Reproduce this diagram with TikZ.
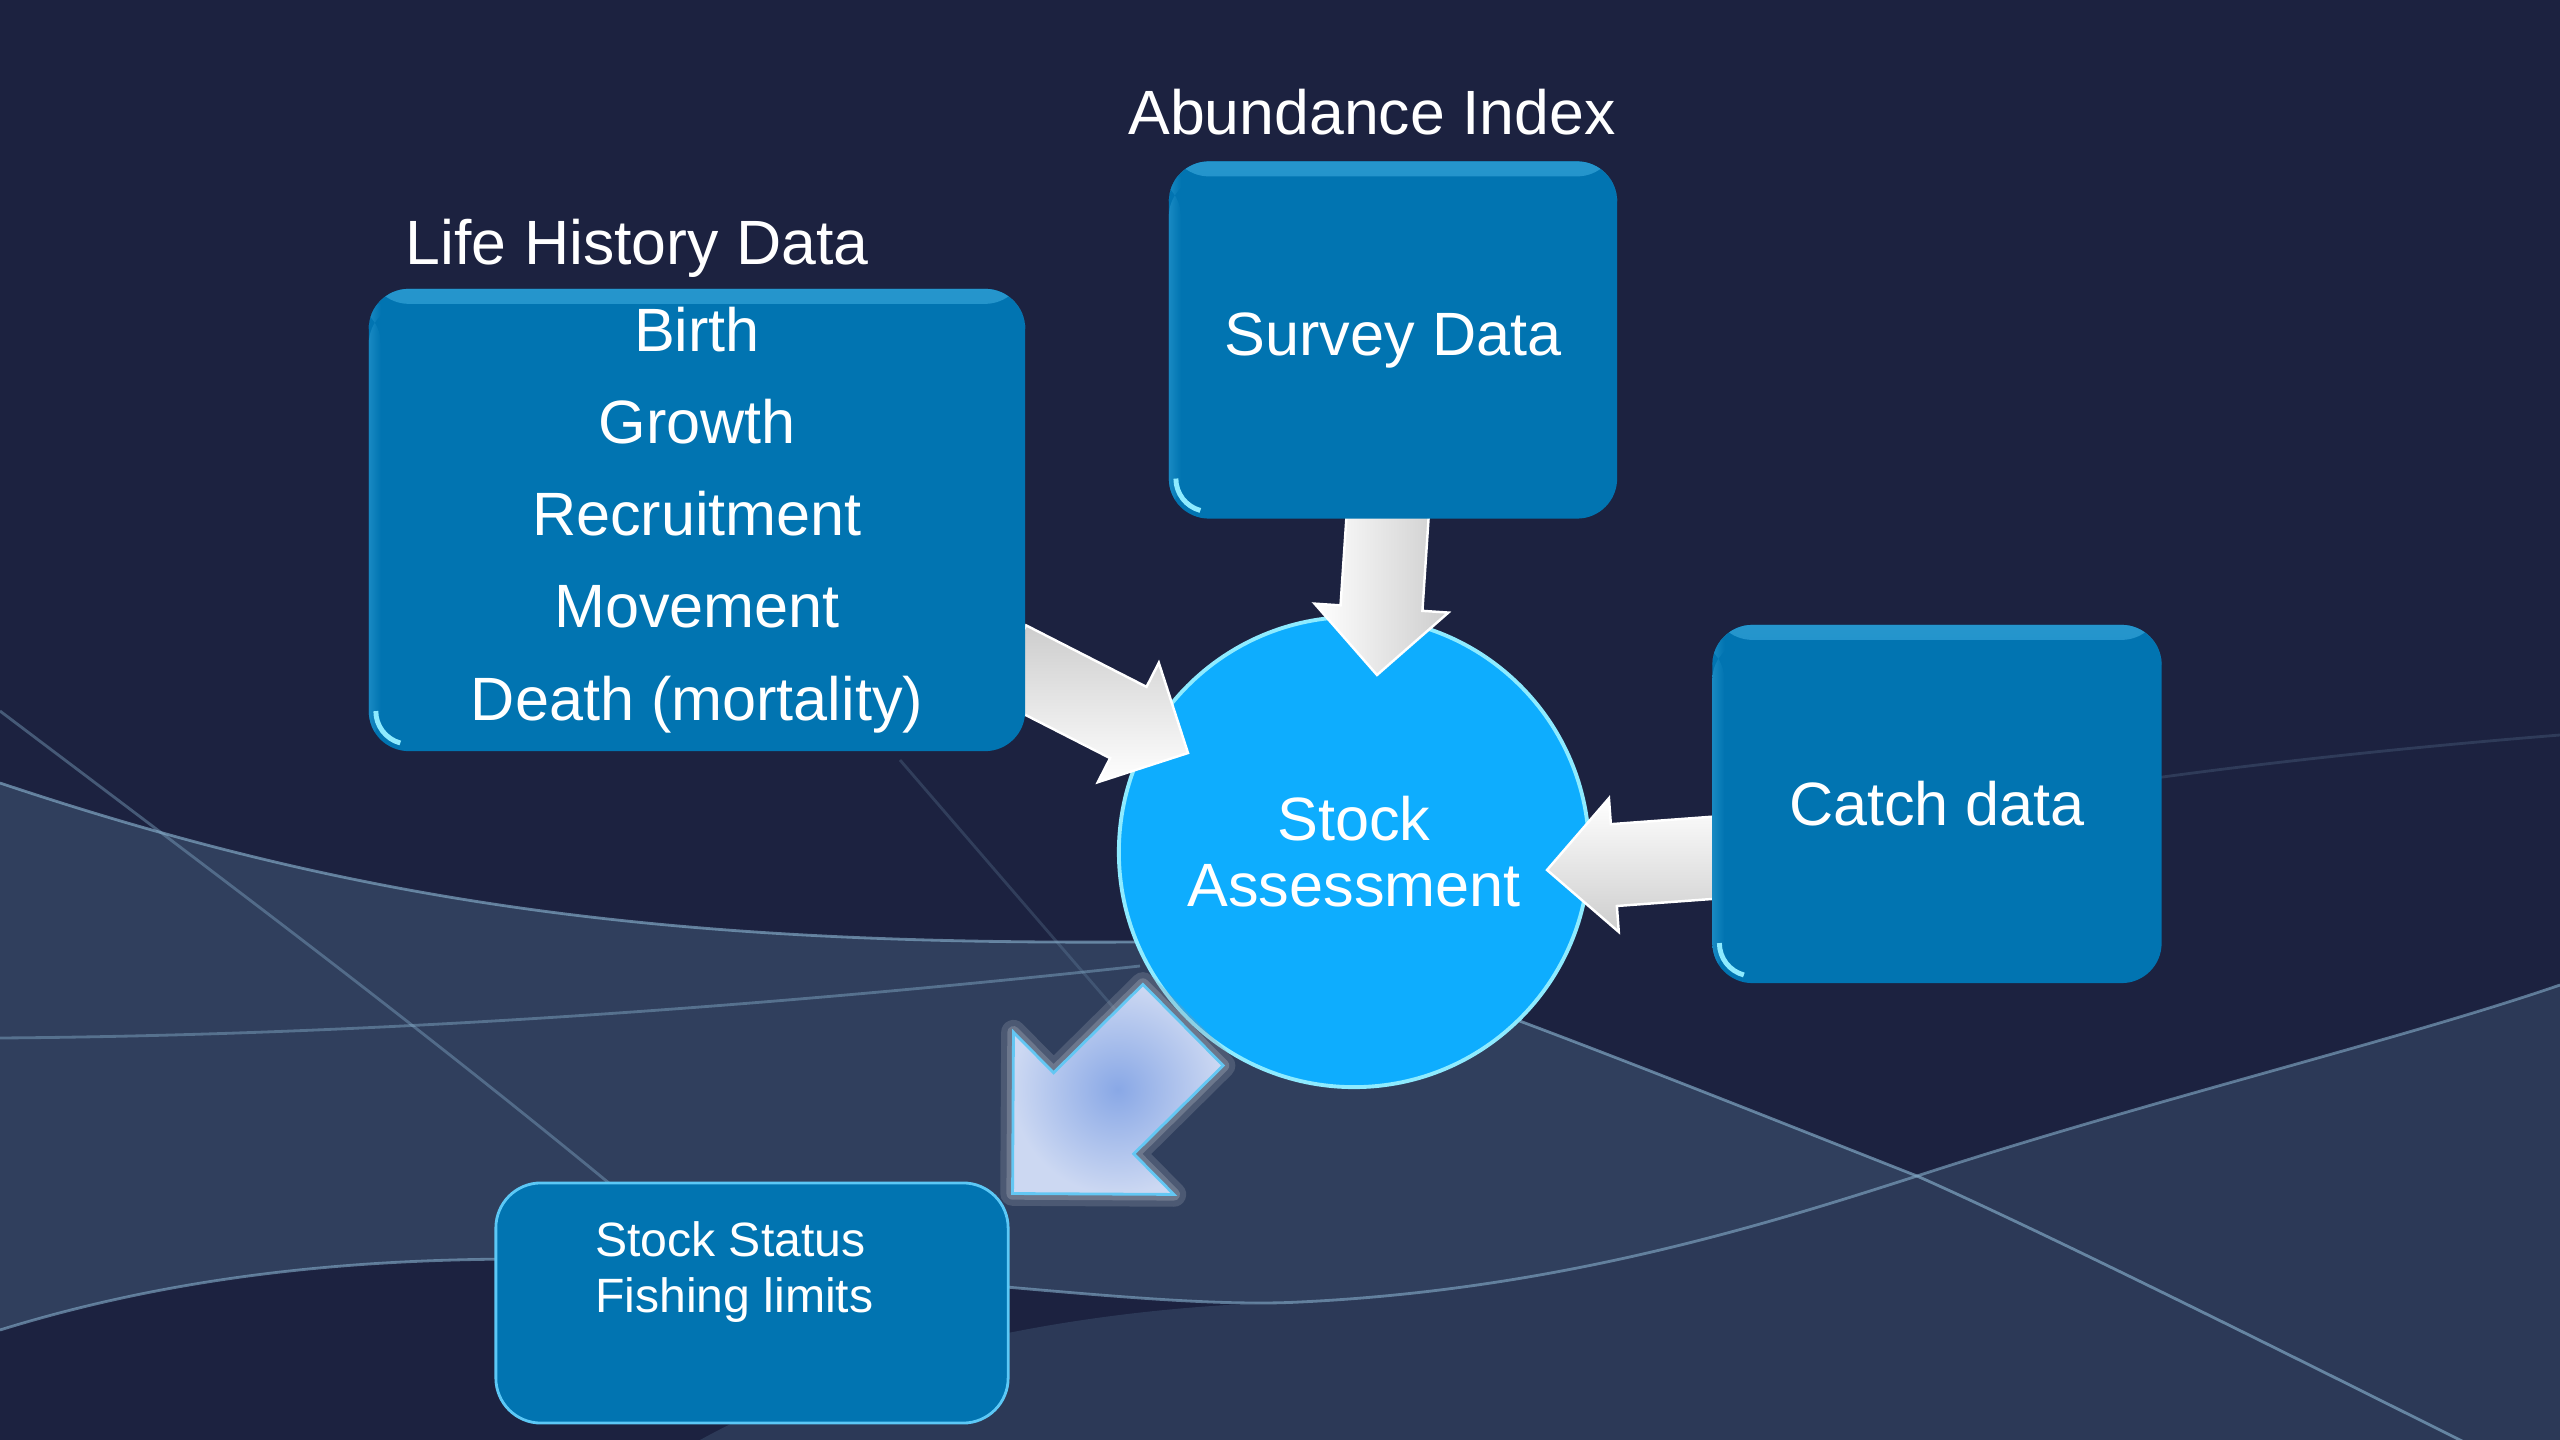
\documentclass[tikz,border=0pt]{standalone}
\usepackage{fontspec}
\setmainfont{Liberation Sans}
\usetikzlibrary{calc,positioning}

\definecolor{navy}{HTML}{1C2240}
\definecolor{boxblue}{HTML}{0174B1}
\definecolor{hiblue}{HTML}{5CC8F6}
\definecolor{hubblue}{HTML}{0EADFE}
\definecolor{rimcyan}{HTML}{8EEBFF}
\definecolor{wave}{HTML}{4A6482}
\definecolor{waveline}{HTML}{86AECB}
\definecolor{arrowgray}{HTML}{CDCDCD}
\definecolor{outin}{HTML}{89A8E6}
\definecolor{outout}{HTML}{CCD8F2}
\definecolor{outedge}{HTML}{63C7F3}
\definecolor{glow}{HTML}{8D96A6}

\pgfdeclarelayer{back}
\pgfdeclarelayer{flow}
\pgfsetlayers{back,flow,main}

\newcommand{\bigtext}{\fontsize{17.4pt}{26.2pt}\selectfont}
\newcommand{\hubtext}{\fontsize{17.4pt}{18.8pt}\selectfont}
\newcommand{\smalltext}{\fontsize{13.7pt}{15.9pt}\selectfont}
\newcommand{\headtext}{\fontsize{17.8pt}{20pt}\selectfont}

% block arrow: #1 options, #2 tail, #3 tip, #4 half shaft, #5 half head
\newcommand{\blockarrow}[5]{%
  \coordinate (hb) at ($(#3)!#5!(#2)$);
  \path[#1] ($(#2)!#4!90:(#3)$) -- ($(hb)!#4!90:(#3)$) -- ($(hb)!#5!90:(#3)$) -- (#3)
    -- ($(hb)!#5!-90:(#3)$) -- ($(hb)!#4!-90:(#3)$) -- ($(#2)!#4!-90:(#3)$) -- cycle;
}

\tikzset{
  databox/.style={rounded corners=4mm, fill=boxblue, text=white, align=center,
    font=\bigtext, inner sep=0pt,
    path picture={
      \shade[top color=boxblue!60!hiblue, middle color=hiblue, bottom color=boxblue]
        (path picture bounding box.north west) rectangle ([yshift=-1.5mm]path picture bounding box.north east);
      \shade[left color=boxblue!75!hiblue, right color=boxblue]
        ([yshift=-1.5mm]path picture bounding box.north west) rectangle ([xshift=1.2mm]path picture bounding box.south west);
      \draw[rimcyan, line width=1.4pt]
        ([shift={(0.7mm,4mm)}]path picture bounding box.south west) arc[start angle=180, end angle=255, radius=3.3mm];
    }},
  statusbox/.style={rounded corners=4.5mm, fill=boxblue, draw=hiblue, line width=0.8pt,
    minimum width=5.12cm, minimum height=2.4cm},
  hub/.style={circle, fill=hubblue, draw=rimcyan, line width=1.1pt, text=white,
    align=center, font=\hubtext, minimum size=4.7cm, inner sep=0pt},
  heading/.style={text=white, font=\headtext, inner sep=0pt},
  wavestroke/.style={draw=waveline, line width=0.8pt, opacity=#1},
  whitearrow/.style={draw=white, line width=0.7pt},
  outarrow/.style={inner color=outin, outer color=outout, draw=outedge, line width=0.8pt}
}

\begin{document}
\begin{tikzpicture}[x=0.01cm, y=-0.01cm]
\useasboundingbox (0,0) rectangle (2560,1440);

\begin{pgfonlayer}{back}
\fill[navy] (0,0) rectangle (2560,1440);
\fill[wave, opacity=0.45] (0,783) .. controls (350,900) and (650,945) .. (1135,942)
  .. controls (1330,942) and (1420,985) .. (1525,1023)
  .. controls (1650,1070) and (1800,1130) .. (1917,1176)
  .. controls (1750,1230) and (1550,1290) .. (1300,1302)
  .. controls (1150,1310) and (900,1268) .. (600,1260)
  .. controls (400,1255) and (200,1268) .. (0,1330) -- cycle;
\fill[wave, opacity=0.35] (700,1440) .. controls (900,1330) and (1150,1305) .. (1300,1302)
  .. controls (1550,1290) and (1750,1230) .. (1917,1176)
  .. controls (2150,1100) and (2400,1040) .. (2560,985) -- (2560,1440) -- cycle;
\path[wavestroke=0.65] (0,783) .. controls (350,900) and (650,945) .. (1135,942)
  .. controls (1330,942) and (1420,985) .. (1525,1023)
  .. controls (1650,1070) and (1800,1130) .. (1917,1176)
  .. controls (2050,1235) and (2300,1360) .. (2560,1490);
\path[wavestroke=0.6] (0,1330) .. controls (200,1268) and (400,1255) .. (600,1260)
  .. controls (900,1268) and (1150,1310) .. (1300,1302)
  .. controls (1550,1290) and (1750,1230) .. (1917,1176)
  .. controls (2150,1100) and (2400,1040) .. (2560,985);
\path[wavestroke=0.45] (0,1038) .. controls (400,1035) and (800,1003) .. (1140,966);
\path[wavestroke=0.4] (0,711) .. controls (250,900) and (520,1100) .. (800,1345);
\path[wavestroke=0.2] (900,760) -- (1150,1050);
\path[wavestroke=0.18] (1720,860) .. controls (1950,800) and (2250,760) .. (2560,735);
\end{pgfonlayer}

\node[databox, minimum width=6.56cm, minimum height=4.62cm] (life) at (697,520)
  {Birth\\Growth\\Recruitment\\Movement\\Death (mortality)};
\node[databox, minimum width=4.48cm, minimum height=3.57cm] (survey) at (1393,340) {Survey Data};
\node[databox, minimum width=4.49cm, minimum height=3.58cm] (catch) at (1937,804) {Catch data};
\node[statusbox] (status) at (752,1303) {};
\node[anchor=north west, align=left, text=white, font=\smalltext, inner sep=0pt] (statustext)
  at ([shift={(100,39)}]status.north west) {Stock Status\\Fishing limits};

\node[heading, above right=0.1cm and 0.37cm of life.north west] (lifehead) {Life History Data};
\node[heading, above=0.25cm of survey.north, xshift=-0.21cm] (surveyhead) {Abundance Index};

\begin{pgfonlayer}{flow}
\node[hub] (hub) at (1354,852) {Stock\\Assessment};

\coordinate (lifetail) at ([shift={(-18,141)}]life.east);
\coordinate (lifetip) at ([shift={(-166,-99)}]hub.center);
\coordinate (surveytail) at ([shift={(-5,-9)}]survey.south);
\coordinate (surveytip) at ([shift={(23,-177)}]hub.center);
\coordinate (catchtail) at ([shift={(12,53)}]catch.west);
\coordinate (catchtip) at ([shift={(193,18)}]hub.center);
\coordinate (outtail) at ([shift={(-171,173)}]hub.center);
\coordinate (outtip) at ([shift={(3,12)}]status.north east);

\blockarrow{whitearrow, top color=arrowgray, bottom color=white}{lifetail}{lifetip}{0.4cm}{0.67cm}
\blockarrow{whitearrow, left color=white, right color=arrowgray}{surveytail}{surveytip}{0.41cm}{0.67cm}
\blockarrow{whitearrow, top color=white, bottom color=arrowgray}{catchtail}{catchtip}{0.41cm}{0.67cm}

\blockarrow{draw=glow, line width=7pt, opacity=0.3, line join=round}{outtail}{outtip}{0.57cm}{1.14cm}
\blockarrow{draw=glow, line width=3.5pt, opacity=0.5, line join=round}{outtail}{outtip}{0.57cm}{1.14cm}
\blockarrow{outarrow}{outtail}{outtip}{0.57cm}{1.14cm}
\end{pgfonlayer}
\end{tikzpicture}
\end{document}
